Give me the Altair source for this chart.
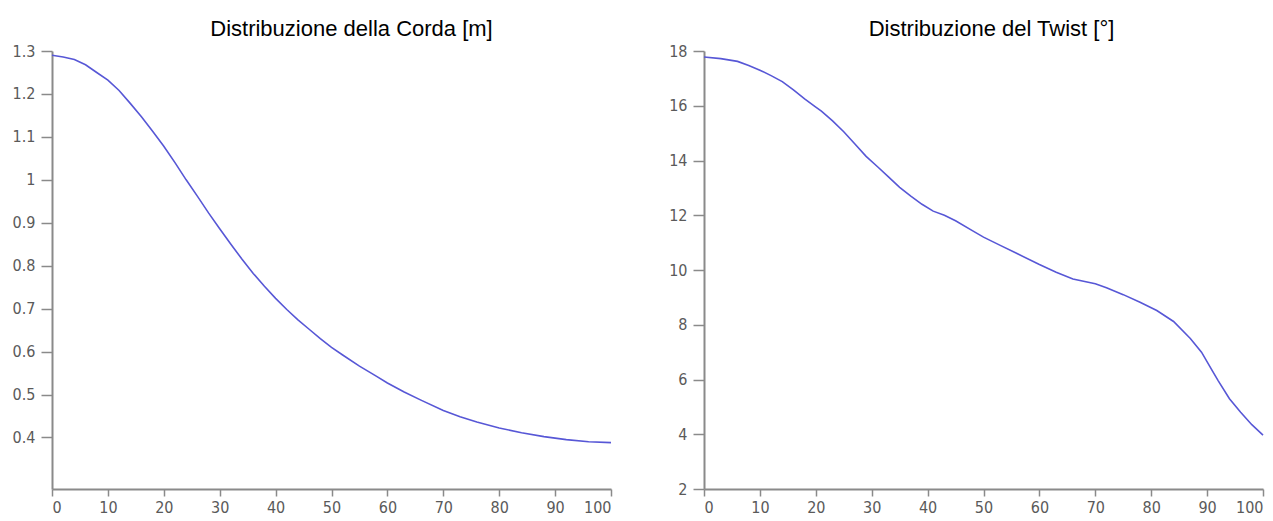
import altair as alt
import pandas as pd

# ---- data ----
pos_corda = [0, 2, 4, 6, 8, 10, 12, 14, 16, 18, 20, 22, 24, 26, 28, 30, 32, 34, 36, 38,
             40, 42, 44, 46, 48, 50, 52, 55, 58, 60, 63, 66, 70, 73, 76, 80, 84, 88, 92, 96, 100]
corda = [1.29, 1.286, 1.28, 1.268, 1.25, 1.232, 1.208, 1.178, 1.147, 1.113, 1.078, 1.04,
         1.0, 0.962, 0.923, 0.886, 0.85, 0.815, 0.782, 0.752, 0.724, 0.698, 0.674, 0.652,
         0.63, 0.61, 0.592, 0.566, 0.543, 0.527, 0.506, 0.487, 0.463, 0.448, 0.436, 0.422,
         0.411, 0.402, 0.395, 0.39, 0.388]

pos_twist = [0, 3, 6, 8, 10, 12, 14, 16, 18, 20, 21, 23, 25, 27, 29, 31, 33, 35, 37, 39, 41,
             43, 45, 48, 50, 53, 56, 60, 63, 66, 70, 72, 75, 78, 81, 84, 87, 89, 91, 92, 94,
             96, 98, 100]
twist = [17.78, 17.72, 17.62, 17.47, 17.3, 17.1, 16.88, 16.58, 16.25, 15.95, 15.8, 15.45,
         15.05, 14.6, 14.15, 13.78, 13.4, 13.02, 12.7, 12.4, 12.15, 12.0, 11.8, 11.44, 11.2,
         10.9, 10.6, 10.2, 9.92, 9.67, 9.5, 9.35, 9.1, 8.82, 8.52, 8.12, 7.5, 7.0, 6.3, 5.95,
         5.3, 4.8, 4.35, 3.97]

x_ticks = list(range(0, 101, 10))
corda_ticks = [0.4, 0.5, 0.6, 0.7, 0.8, 0.9, 1.0, 1.1, 1.2, 1.3]
twist_ticks = [2, 4, 6, 8, 10, 12, 14, 16, 18]

title_corda = "Distribuzione della Corda [m]"
title_twist = "Distribuzione del Twist [°]"

LINE = "#5757d6"
AXIS = "#8a8a8a"
LABEL = "#5a5a5a"
LABEL_FONT = "Liberation Sans Narrow, DejaVu Sans Condensed, Liberation Sans, sans-serif"

df_c = pd.DataFrame({"pos": pos_corda, "val": corda})
df_t = pd.DataFrame({"pos": pos_twist, "val": twist})

W, H = 559, 438


def panel(df, ydom, yvals, title, dx):
    return alt.Chart(df).mark_line(color=LINE, strokeWidth=1.6).encode(
        x=alt.X("pos:Q",
                scale=alt.Scale(domain=[0, 100], nice=False, zero=False),
                axis=alt.Axis(values=x_ticks, title=None, tickSize=7,
                              labelPadding=3, labelFontSize=16)),
        y=alt.Y("val:Q",
                scale=alt.Scale(domain=ydom, nice=False, zero=False),
                axis=alt.Axis(values=yvals, format="~g", title=None, tickSize=11,
                              labelPadding=6, labelFontSize=16,
                              minExtent=52, maxExtent=52)),
    ).properties(
        width=W, height=H,
        title=alt.TitleParams(title, dx=dx, anchor="middle"),
    )


left = panel(df_c, [0.28, 1.3], corda_ticks, title_corda, 20)
right = panel(df_t, [2, 18], twist_ticks, title_twist, 8)

chart = alt.hconcat(left, right, spacing=37).configure(
    padding={"left": 0, "top": 18, "right": 0, "bottom": 0},
    background="white",
).configure_view(stroke=None).configure_axis(
    grid=False,
    domainColor=AXIS,
    domainWidth=2,
    tickColor=AXIS,
    tickWidth=1.5,
    labelColor=LABEL,
    labelFont=LABEL_FONT,
).configure_title(
    font="Liberation Sans",
    fontSize=22,
    fontWeight="normal",
    color="black",
    offset=2,
)

chart.save("out.html", embed_options={"renderer": "svg", "actions": False})
